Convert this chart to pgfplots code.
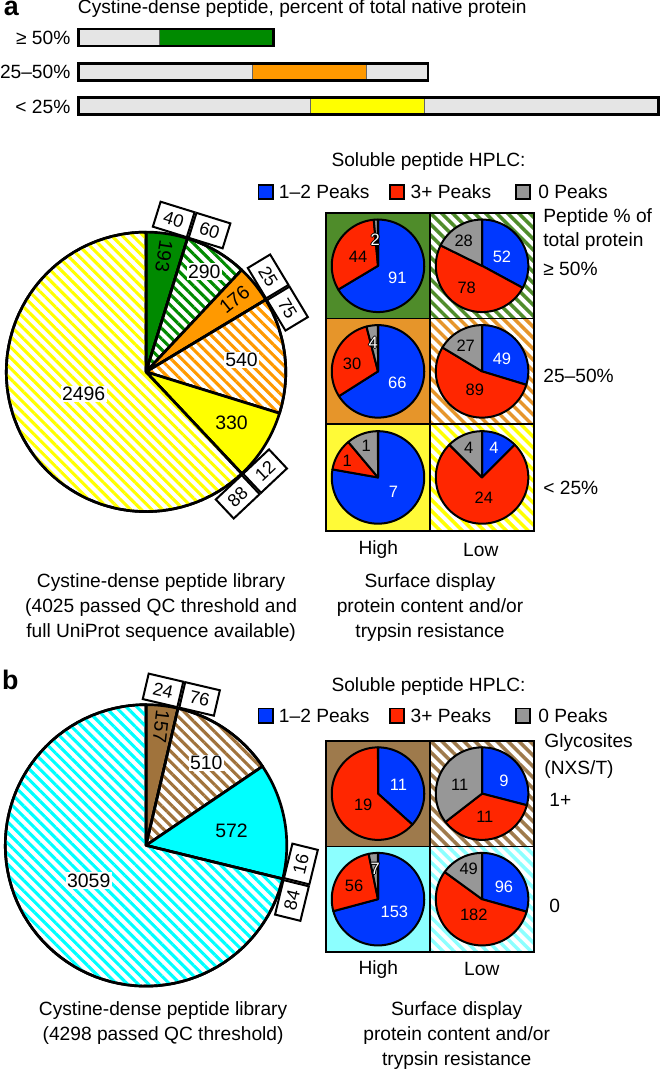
\documentclass[border=0pt]{standalone}
\usepackage{fontspec}
\setmainfont{Liberation Sans}
\usepackage{pgfplots}
\pgfplotsset{compat=1.18}
\usetikzlibrary{patterns.meta}

\definecolor{gSolid}{HTML}{008A00}
\definecolor{oSolid}{HTML}{FF9900}
\definecolor{ySolid}{HTML}{FFFF00}
\definecolor{bSolid}{HTML}{A0733C}
\definecolor{cSolid}{HTML}{00FFFF}
\definecolor{gCell}{HTML}{4F8C2A}
\definecolor{oCell}{HTML}{E6952A}
\definecolor{yCell}{HTML}{FFFA37}
\definecolor{bCell}{HTML}{9E7A4C}
\definecolor{cCell}{HTML}{8CFFFF}
\definecolor{pBlue}{HTML}{0038FF}
\definecolor{pRed}{HTML}{FF2600}
\definecolor{pGray}{HTML}{979797}
\definecolor{barGray}{HTML}{E5E5E5}

\tikzset{
  pieA/.style={draw=black, line width=2pt, line join=round},
  pieS/.style={draw=black, line width=1.5pt, line join=round},
  hatchP/.style={preaction={fill=white}, pattern={Lines[angle=-45,distance=5.6pt,line width=2.3pt]}, pattern color=#1},
  hatchC/.style={preaction={fill=white}, pattern={Lines[angle=-45,distance=5.8pt,line width=2.6pt]}, pattern color=#1},
  lab/.style={font=\fontsize{14.3}{18.4}\selectfont, inner sep=0pt},
  num/.style={font=\fontsize{14.5}{16}\selectfont, inner sep=0pt},
  sml/.style={font=\fontsize{12.3}{13}\selectfont, inner sep=0pt},
  boxst/.style={draw=black, line width=1.5pt, fill=white, minimum width=26.5pt, minimum height=19.5pt, inner sep=0pt, font=\fontsize{13.5}{14}\selectfont},
  key/.style={draw=black, line width=1.2pt, minimum size=10.5pt, inner sep=0pt},
}

% pie helpers: slices run clockwise from 12 o'clock
\newcommand\pietotal{1}
\newcommand\pieangle{90}
\newcommand{\startpie}[1]{\gdef\pietotal{#1}\gdef\pieangle{90}}
\newcommand{\slice}[5]{% cx, cy, r, value, style
  \pgfmathsetmacro{\afrac}{#4/\pietotal}%
  \pgfmathsetmacro{\aend}{\pieangle-360*\afrac}%
  \edef\doslice{\noexpand\addplot[\unexpanded{#5},domain=\aend:\pieangle,samples=80,variable=\noexpand\t]
    ({#1+#3*cos(\noexpand\t)},{#2-#3*sin(\noexpand\t)}) -- (axis cs:#1,#2) -- cycle;}%
  \doslice
  \global\let\pieangle\aend}
\newcommand{\cell}[5]{\addplot[#5, draw=black, line width=1.2pt] coordinates {(#1,#2) (#3,#2) (#3,#4) (#1,#4)} -- cycle;}
\newcommand{\boxpair}[6]{% x, y, rotation, left, right, side
  \node[boxst, rotate=#3, anchor=#6 east] at (#1,#2) {#4};
  \node[boxst, rotate=#3, anchor=#6 west] at (#1,#2) {#5};}
\newcommand{\olab}[3]{%
  \node[sml, text=black, xshift=0.7pt] at (#1,#2) {#3};
  \node[sml, text=black, xshift=-0.7pt] at (#1,#2) {#3};
  \node[sml, text=black, yshift=0.7pt] at (#1,#2) {#3};
  \node[sml, text=black, yshift=-0.7pt] at (#1,#2) {#3};
  \node[sml, text=white] at (#1,#2) {#3};}

\begin{document}
\begin{tikzpicture}
\begin{axis}[
    width=495pt, height=801.75pt, scale only axis,
    xmin=0, xmax=660, ymin=0, ymax=1069, y dir=reverse,
    hide axis, clip=false, no markers
]
% ---------- panel a: bars ----------
\node[font=\fontsize{20}{20}\bfseries\selectfont, inner sep=0pt] at (13,15) {a};
\node[lab, anchor=west] at (79,16) {Cystine-dense peptide, percent of total native protein};
\node[lab, anchor=east] at (72,45) {≥ 50\%};
\node[lab, anchor=east] at (72,79) {25–50\%};
\node[lab, anchor=east] at (72,113) {< 25\%};

\addplot[fill=barGray, draw=black!40] coordinates {(80,36) (160,36) (160,53) (80,53)} -- cycle;
\addplot[fill=gSolid, draw=black!60] coordinates {(160,36) (274,36) (274,53) (160,53)} -- cycle;
\addplot[draw=black, line width=2pt] coordinates {(80,36) (274,36) (274,53) (80,53)} -- cycle;

\addplot[fill=barGray, draw=black!40] coordinates {(80,70) (252.6,70) (252.6,87) (80,87)} -- cycle;
\addplot[fill=oSolid, draw=black!60] coordinates {(252.6,70) (366.4,70) (366.4,87) (252.6,87)} -- cycle;
\addplot[fill=barGray, draw=black!60] coordinates {(366.4,70) (427.5,70) (427.5,87) (366.4,87)} -- cycle;
\addplot[draw=black, line width=2pt] coordinates {(80,70) (427.5,70) (427.5,87) (80,87)} -- cycle;

\addplot[fill=barGray, draw=black!40] coordinates {(80,104) (310.4,104) (310.4,121) (80,121)} -- cycle;
\addplot[fill=ySolid, draw=black!60] coordinates {(310.4,104) (423.3,104) (423.3,121) (310.4,121)} -- cycle;
\addplot[fill=barGray, draw=black!60] coordinates {(423.3,104) (657,104) (657,121) (423.3,121)} -- cycle;
\addplot[draw=black, line width=2pt] coordinates {(80,104) (657,104) (657,121) (80,121)} -- cycle;

% ---------- panel a: library pie ----------
\startpie{4025}
\slice{147}{377}{139}{193}{pieA, fill=gSolid}
\slice{147}{377}{139}{290}{pieA, hatchP=gSolid}
\slice{147}{377}{139}{176}{pieA, fill=oSolid}
\slice{147}{377}{139}{540}{pieA, hatchP=oSolid}
\slice{147}{377}{139}{330}{pieA, fill=ySolid}
\slice{147}{377}{139}{2496}{pieA, hatchP=ySolid}
\node[num, rotate=-98.6] at (165,262) {193};
\node[num, fill=white, inner sep=1pt] at (205,277) {290};
\node[num, rotate=38.9] at (235,305) {176};
\node[num, fill=white, inner sep=1pt] at (242,365) {540};
\node[num] at (232,428) {330};
\node[num, fill=white, inner sep=1pt] at (85,399) {2496};
\boxpair{188.2}{244.3}{-17.26}{40}{60}{south}
\boxpair{266.1}{305.3}{-58.94}{25}{75}{south}
\boxpair{242.2}{478.3}{43.24}{88}{12}{north}

% ---------- panel a: HPLC grid ----------
\node[lab] at (428,168) {Soluble peptide HPLC:};
\node[key, fill=pBlue] at (266,198) {};
\node[lab, anchor=west] at (279,198) {1–2 Peaks};
\node[key, fill=pRed] at (396.5,198) {};
\node[lab, anchor=west] at (410,198) {3+ Peaks};
\node[key, fill=pGray] at (522,198) {};
\node[lab, anchor=west] at (537,198) {0 Peaks};

\cell{326}{219}{429.5}{324}{fill=gCell}
\cell{429.5}{219}{533}{324}{hatchC=gCell}
\cell{326}{324}{429.5}{429}{fill=oCell}
\cell{429.5}{324}{533}{429}{hatchC=oCell}
\cell{326}{429}{429.5}{535}{fill=yCell}
\cell{429.5}{429}{533}{535}{hatchC=ySolid}

\startpie{137}
\slice{377.75}{271.5}{46}{91}{pieS, fill=pBlue}
\slice{377.75}{271.5}{46}{44}{pieS, fill=pRed}
\slice{377.75}{271.5}{46}{2}{pieS, fill=pGray}
\startpie{158}
\slice{481.25}{271.5}{46}{52}{pieS, fill=pBlue}
\slice{481.25}{271.5}{46}{78}{pieS, fill=pRed}
\slice{481.25}{271.5}{46}{28}{pieS, fill=pGray}
\startpie{100}
\slice{377.75}{376.5}{46}{66}{pieS, fill=pBlue}
\slice{377.75}{376.5}{46}{30}{pieS, fill=pRed}
\slice{377.75}{376.5}{46}{4}{pieS, fill=pGray}
\startpie{165}
\slice{481.25}{376.5}{46}{49}{pieS, fill=pBlue}
\slice{481.25}{376.5}{46}{89}{pieS, fill=pRed}
\slice{481.25}{376.5}{46}{27}{pieS, fill=pGray}
\startpie{9}
\slice{377.75}{482}{46}{7}{pieS, fill=pBlue}
\slice{377.75}{482}{46}{1}{pieS, fill=pRed}
\slice{377.75}{482}{46}{1}{pieS, fill=pGray}
\startpie{32}
\slice{481.25}{482}{46}{4}{pieS, fill=pBlue}
\slice{481.25}{482}{46}{24}{pieS, fill=pRed}
\slice{481.25}{482}{46}{4}{pieS, fill=pGray}

\olab{375}{245.5}{2}
\node[sml] at (358,262.5) {44};
\node[sml, text=white] at (397,283.5) {91};
\node[sml] at (463,246.5) {28};
\node[sml, text=white] at (501,262.5) {52};
\node[sml] at (466,293.5) {78};
\olab{373}{348.5}{4}
\node[sml] at (352,368.5) {30};
\node[sml, text=white] at (397,387.5) {66};
\node[sml] at (465,351.5) {27};
\node[sml, text=white] at (501,364.5) {49};
\node[sml] at (474,394.5) {89};
\node[sml] at (366,451) {1};
\node[sml] at (347,465) {1};
\node[sml, text=white] at (393,496) {7};
\node[sml] at (468,453) {4};
\node[sml, text=white] at (493,453) {4};
\node[sml] at (483,502) {24};

\node[lab, anchor=west] at (542,223) {Peptide \% of};
\node[lab, anchor=west] at (542,247) {total protein};
\node[lab, anchor=west] at (542,275) {≥ 50\%};
\node[lab, anchor=west] at (542,381) {25–50\%};
\node[lab, anchor=west] at (542,492) {< 25\%};
\node[lab] at (378,554) {High};
\node[lab] at (480,554) {Low};
\node[lab, align=center] at (162,611.5) {Cystine-dense peptide library\\(4025 passed QC threshold and\\full UniProt sequence available)};
\node[lab, align=center] at (429.5,611.5) {Surface display\\protein content and/or\\trypsin resistance};

% ---------- panel b: library pie ----------
\node[font=\fontsize{20}{20}\bfseries\selectfont, inner sep=0pt] at (12,683) {b};
\startpie{4298}
\slice{147}{848}{140}{157}{pieA, fill=bSolid}
\slice{147}{848}{140}{510}{pieA, hatchP=bSolid}
\slice{147}{848}{140}{572}{pieA, fill=cSolid}
\slice{147}{848}{140}{3059}{pieA, hatchP=cSolid}
\node[num, rotate=-96.6] at (162,730) {157};
\node[num, fill=white, inner sep=1pt] at (207,766) {510};
\node[num] at (232,833) {572};
\node[num, fill=white, inner sep=1pt] at (90,883) {3059};
\boxpair{178.9}{711.7}{-13.15}{24}{76}{south}
\boxpair{283}{881.3}{76.22}{84}{16}{north}

% ---------- panel b: HPLC grid ----------
\node[lab] at (428,690) {Soluble peptide HPLC:};
\node[key, fill=pBlue] at (266,719) {};
\node[lab, anchor=west] at (279,719) {1–2 Peaks};
\node[key, fill=pRed] at (396.5,719) {};
\node[lab, anchor=west] at (410,719) {3+ Peaks};
\node[key, fill=pGray] at (522,719) {};
\node[lab, anchor=west] at (537,719) {0 Peaks};

\cell{326}{744}{429.5}{849}{fill=bCell}
\cell{429.5}{744}{533}{849}{hatchC=bCell}
\cell{326}{849}{429.5}{954}{fill=cCell}
\cell{429.5}{849}{533}{954}{hatchC=cCell}

\startpie{30}
\slice{377.75}{796.5}{46}{11}{pieS, fill=pBlue}
\slice{377.75}{796.5}{46}{19}{pieS, fill=pRed}
\startpie{31}
\slice{481.25}{796.5}{46}{9}{pieS, fill=pBlue}
\slice{481.25}{796.5}{46}{11}{pieS, fill=pRed}
\slice{481.25}{796.5}{46}{11}{pieS, fill=pGray}
\startpie{216}
\slice{377.75}{901.5}{46}{153}{pieS, fill=pBlue}
\slice{377.75}{901.5}{46}{56}{pieS, fill=pRed}
\slice{377.75}{901.5}{46}{7}{pieS, fill=pGray}
\startpie{327}
\slice{481.25}{901.5}{46}{96}{pieS, fill=pBlue}
\slice{481.25}{901.5}{46}{182}{pieS, fill=pRed}
\slice{481.25}{901.5}{46}{49}{pieS, fill=pGray}

\node[sml, text=white] at (398,787.5) {11};
\node[sml] at (363,807.5) {19};
\node[sml, text=white] at (503,783.5) {9};
\node[sml] at (459,787.5) {11};
\node[sml] at (484,819.5) {11};
\olab{375}{871.5}{7}
\node[sml] at (354,888.5) {56};
\node[sml, text=white] at (394,914.5) {153};
\node[sml] at (468,871.5) {49};
\node[sml, text=white] at (503,889.5) {96};
\node[sml] at (473,917.5) {182};

\node[lab, anchor=west] at (543,746) {Glycosites};
\node[lab, anchor=west] at (543,773) {(NXS/T)};
\node[lab, anchor=west] at (548,803) {1+};
\node[lab, anchor=west] at (548,908) {0};
\node[lab] at (378,971) {High};
\node[lab] at (481,971) {Low};
\node[lab, align=center] at (164,1025) {Cystine-dense peptide library\\(4298 passed QC threshold)};
\node[lab, align=center] at (456,1037) {Surface display\\protein content and/or\\trypsin resistance};
\end{axis}
\end{tikzpicture}
\end{document}
